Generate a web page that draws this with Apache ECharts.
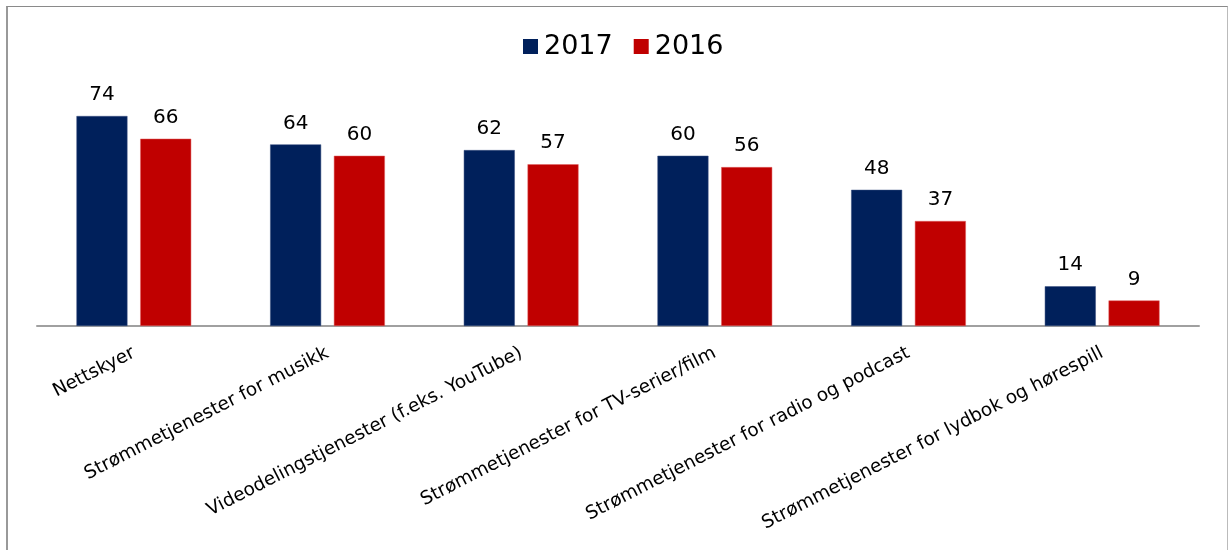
<!DOCTYPE html>
<html>
<head>
<meta charset="utf-8">
<script src="https://cdn.jsdelivr.net/npm/echarts@6/dist/echarts.min.js"></script>
<style>
html,body{margin:0;padding:0;background:#fff;}
#frame{position:absolute;left:6px;top:6px;width:1219px;height:560px;border-top:1px solid #8a8a8a;border-left:2px solid #999;border-right:1px solid #bbb;}
#chart{position:absolute;left:0;top:0;width:1228px;height:550px;}
</style>
</head>
<body>
<div id="frame"></div>
<div id="chart"></div>
<script>
const categories = ["Nettskyer","Strømmetjenester for musikk","Videodelingstjenester (f.eks. YouTube)","Strømmetjenester for TV-serier/film","Strømmetjenester for radio og podcast","Strømmetjenester for lydbok og hørespill"];
const values2017 = [74,64,62,60,48,14];
const values2016 = [66,60,57,56,37,9];
const seriesNames = ["2017","2016"];

const chart = echarts.init(document.getElementById('chart'));
const font = 'Verdana, "DejaVu Sans", sans-serif';
const labelCfg = {show:true, position:'top', distance:11, color:'#000', fontSize:20, fontFamily:font};
chart.setOption({
  animation:false,
  legend:{top:33, left:523, padding:0, itemWidth:15, itemHeight:15, itemGap:21, icon:'rect',
    itemStyle:{borderWidth:0},
    textStyle:{fontSize:27, fontFamily:font, color:'#000', padding:[0,0,0,1]}, data:seriesNames},
  grid:{left:37, right:29, top:99, bottom:224, containLabel:false},
  xAxis:{type:'category', data:categories,
    axisLine:{lineStyle:{color:'#a0a0a0', width:2}}, axisTick:{show:false},
    axisLabel:{rotate:27, interval:0, fontSize:18.5, fontFamily:font, color:'#000', margin:26}},
  yAxis:{type:'value', min:0, max:80, show:false, splitLine:{show:false}},
  series:[
    {name:seriesNames[0], type:'bar', data:values2017, barWidth:51, barGap:'25%',
     itemStyle:{color:'#00205b', borderColor:'#3a5080', borderWidth:0.5}, label:labelCfg},
    {name:seriesNames[1], type:'bar', data:values2016, barWidth:51,
     itemStyle:{color:'#c00000', borderColor:'#e06060', borderWidth:0.5}, label:labelCfg}
  ]
});
</script>
</body>
</html>
